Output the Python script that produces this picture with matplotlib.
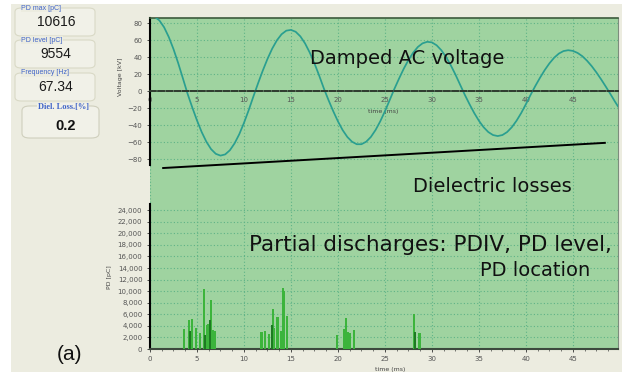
import matplotlib.pyplot as plt
from matplotlib.patches import FancyBboxPatch, Rectangle
from matplotlib.ticker import MultipleLocator, FuncFormatter

# damped AC voltage trace (time in ms, voltage in kV)
t_ms = [0.0, 0.5, 1.0, 1.5, 2.0, 2.5, 3.0, 3.5,
        4.0, 4.5, 5.0, 5.5, 6.0, 6.5, 7.0, 7.5, 8.0, 8.5, 9.0, 9.5, 10.0, 10.5, 11.0,
        11.5, 12.0, 12.5, 13.0, 13.5, 14.0, 14.5, 15.0, 15.5, 16.0, 16.5, 17.0, 17.5, 18.0, 18.5,
        19.0, 19.5, 20.0, 20.5, 21.0, 21.5, 22.0, 22.5, 23.0, 23.5, 24.0, 24.5, 25.0, 25.5,
        26.0, 26.5, 27.0, 27.5, 28.0, 28.5, 29.0, 29.5, 30.0, 30.5, 31.0, 31.5, 32.0, 32.5, 33.0,
        33.5, 34.0, 34.5, 35.0, 35.5, 36.0, 36.5, 37.0, 37.5, 38.0, 38.5, 39.0, 39.5, 40.0, 40.5,
        41.0, 41.5, 42.0, 42.5, 43.0, 43.5, 44.0, 44.5, 45.0, 45.5, 46.0, 46.5, 47.0, 47.5, 48.0, 48.5,
        49.0, 49.5, 49.8]
volt_kv = [87.7, 87.3, 83.0, 75.0, 63.5, 49.3, 32.8, 14.9,
           -3.3, -19.4, -34.6, -48.3, -59.7, -68.4, -73.9, -76.0, -74.6, -69.7, -61.6, -50.8, -37.5, -22.6, -6.5,
           9.1, 24.0, 37.7, 49.8, 59.6, 66.8, 71.0, 71.9, 69.7, 64.3, 56.0, 45.2, 32.5, 18.2, 3.0,
           -10.8, -23.8, -35.7, -46.0, -54.1, -59.7, -62.6, -62.6, -59.7, -54.1, -45.9, -35.7, -23.8, -10.8,
           2.4, 14.6, 26.2, 36.4, 45.1, 51.8, 56.1, 57.9, 57.2, 53.8, 48.0, 40.1, 30.4, 19.4, 7.4,
           -4.5, -15.5, -25.9, -35.0, -42.6, -48.3, -51.8, -53.0, -51.8, -48.3, -42.6, -35.0, -25.9, -15.5, -4.5,
           5.9, 15.6, 24.6, 32.5, 39.1, 44.0, 47.0, 48.0, 47.2, 44.8, 41.0, 35.7, 29.3, 21.9, 13.8, 5.2,
           -3.7, -12.9, -18.1]

# dielectric loss trend line
loss_t = [1.4, 48.4]
loss_kv = [-90.6, -61.0]

# partial discharge pulses (ms, pC)
pd_t = [3.65, 4.15, 4.43, 4.86, 5.32, 5.74, 6.06, 6.2, 6.52, 6.67, 6.88,
        11.77, 11.95, 12.2, 12.62, 13.08, 13.22, 13.51, 13.65, 13.9, 14.15, 14.29, 14.54,
        19.89, 20.6, 20.81, 21.1, 21.3, 21.67,
        28.05, 28.6, 28.78]
pd_pc = [3500, 4940, 5180, 3620, 2810, 10400, 4140, 4310, 8510, 3330, 3040,
         2930, 2990, 3040, 2590, 6900, 3620, 5460, 5560, 3040, 10530, 10060, 5750,
         2470, 3450, 5350, 2870, 2760, 3330,
         6100, 2810, 2810]
pd_dark_t = [4.25, 5.89, 6.42, 13.01, 28.16]
pd_dark_pc = [3040, 2470, 5060, 4080, 2870]

readout_labels = ["PD max [pC]", "PD level [pC]", "Frequency [Hz]"]
readout_values = ["10616", "9554", "67.34"]
loss_label = "Diel. Loss.[%]"
loss_value = "0.2"

W, H = 629, 377
BEIGE = "#ecece0"
GREEN = "#9fd3a0"
GRID = "#5fb387"
BLUE = "#3f63c8"


def fx(px):
    return px / W


def fy(py):
    return 1 - py / H


fig = plt.figure(figsize=(W / 100, H / 100), dpi=100)
fig.patch.set_facecolor("white")
fig.patches.append(Rectangle((fx(11), fy(372)), fx(611), 368 / H, transform=fig.transFigure,
                             facecolor=BEIGE, edgecolor="none", zorder=-10))

# ---- readout boxes on the left
box_tops = [8, 40, 73]
for lab, val, top in zip(readout_labels, readout_values, box_tops):
    fig.patches.append(FancyBboxPatch((fx(15), fy(top + 28)), fx(80), 28 / H,
                                      boxstyle="round,pad=0,rounding_size=0.01",
                                      transform=fig.transFigure, facecolor="#f1f1e8",
                                      edgecolor="#d9d9c6", lw=0.8))
    fig.text(fx(21), fy(top), lab, color=BLUE, fontsize=5, va="center", ha="left",
             family="Liberation Sans",
             bbox=dict(facecolor=BEIGE, edgecolor="none", pad=0.3))
    fig.text(fx(56), fy(top + 14), val, color="#1a1a1a", fontsize=10, va="center",
             ha="center", family="Liberation Sans")

fig.patches.append(FancyBboxPatch((fx(22), fy(138)), fx(77), 32 / H,
                                  boxstyle="round,pad=0,rounding_size=0.012",
                                  transform=fig.transFigure, facecolor="#f1f1e8",
                                  edgecolor="#cfcfbd", lw=0.8))
fig.text(fx(63), fy(107), loss_label, color=BLUE, fontsize=6, va="center", ha="center",
         family="Liberation Serif", weight="bold",
         bbox=dict(facecolor="#f1f1e8", edgecolor="none", pad=0.3))
fig.text(fx(66), fy(126), loss_value, color="#111", fontsize=10.5, va="center",
         ha="center", family="Liberation Sans", weight="bold")

# ---- scope axes
ax1 = fig.add_axes([fx(150), fy(180), fx(468), 162 / H])
ax2 = fig.add_axes([fx(150), fy(349), fx(468), 169 / H])

for ax in (ax1, ax2):
    ax.set_facecolor(GREEN)
    ax.set_xlim(0, 49.8)
    ax.xaxis.set_major_locator(MultipleLocator(5))
    ax.grid(True, color=GRID, lw=0.8, linestyle=(0, (1, 2)))
    ax.tick_params(labelsize=5, labelcolor="#555", length=2, width=0.6, color="#333")
    ax.spines["right"].set_color("#7d8c7d")
    ax.spines["right"].set_linewidth(0.8)
    ax.spines["left"].set_color("black")
    ax.spines["left"].set_linewidth(1.5)
    ax.set_axisbelow(True)

# voltage
ax1.plot(t_ms, volt_kv, color="#2a9f90", lw=1.25, zorder=3)
ax1.plot(loss_t, loss_kv, color="black", lw=1.4, zorder=3)
ax1.set_ylim(-104.7, 85.9)
ax1.set_yticks(range(-80, 81, 20))
ax1.spines["left"].set_bounds(-87, 86)
ax1.spines["top"].set_color("#3c5a3c")
ax1.spines["top"].set_linewidth(1.2)
ax1.spines["bottom"].set_position(("data", 0))
ax1.spines["bottom"].set_linestyle((0, (3, 1.2)))
ax1.spines["bottom"].set_color("#2e3a2e")
ax1.spines["bottom"].set_linewidth(1.4)
ax1.spines["bottom"].set_zorder(4)
ax1.tick_params(axis="x", length=0, pad=4)
ax1.set_ylabel("Voltage [kV]", fontsize=4.5, color="#444")
ax1.yaxis.set_label_coords(-0.058, 0.636)
ax1.set_xlabel("time (ms)", fontsize=4.5, color="#444")
ax1.xaxis.set_label_coords(0.498, 0.438)

# partial discharges
ax2.bar(pd_t, pd_pc, width=0.2, color="#3cb43c", zorder=3)
ax2.bar(pd_dark_t, pd_dark_pc, width=0.2, color="#1d7a22", zorder=3)
ax2.set_ylim(0, 29230)
ax2.set_yticks(range(0, 24001, 2000))
ax2.yaxis.set_major_formatter(FuncFormatter(lambda v, p: f"{v:,.0f}"))
ax2.xaxis.set_minor_locator(MultipleLocator(1.25))
ax2.tick_params(axis="x", which="minor", length=1.5, width=0.5, color="#444")
ax2.tick_params(axis="x", pad=3)
ax2.spines["left"].set_bounds(0, 25000)
ax2.spines["top"].set_visible(False)
ax2.spines["bottom"].set_color("#3d4a3d")
ax2.spines["bottom"].set_linewidth(1.5)
ax2.set_ylabel("PD [pC]", fontsize=4.5, color="#444")
ax2.yaxis.set_label_coords(-0.081, 0.426)
ax2.set_xlabel("time (ms)", fontsize=4.5, color="#444")
ax2.xaxis.set_label_coords(0.513, -0.107)

# annotations
fig.text(fx(310), fy(58), "Damped AC voltage", fontsize=14, va="center", ha="left", color="#111")
fig.text(fx(413), fy(187), "Dielectric losses", fontsize=14, va="center", ha="left", color="#111")
fig.text(fx(249), fy(245), "Partial discharges: PDIV, PD level,", fontsize=15.5,
         va="center", ha="left", color="#111")
fig.text(fx(590), fy(270), "PD location", fontsize=14, va="center", ha="right", color="#111")
fig.text(fx(70), fy(354), "(a)", fontsize=15, va="center", ha="center",
         family="Liberation Sans", color="#111")

fig.savefig("out.png", dpi=100)
